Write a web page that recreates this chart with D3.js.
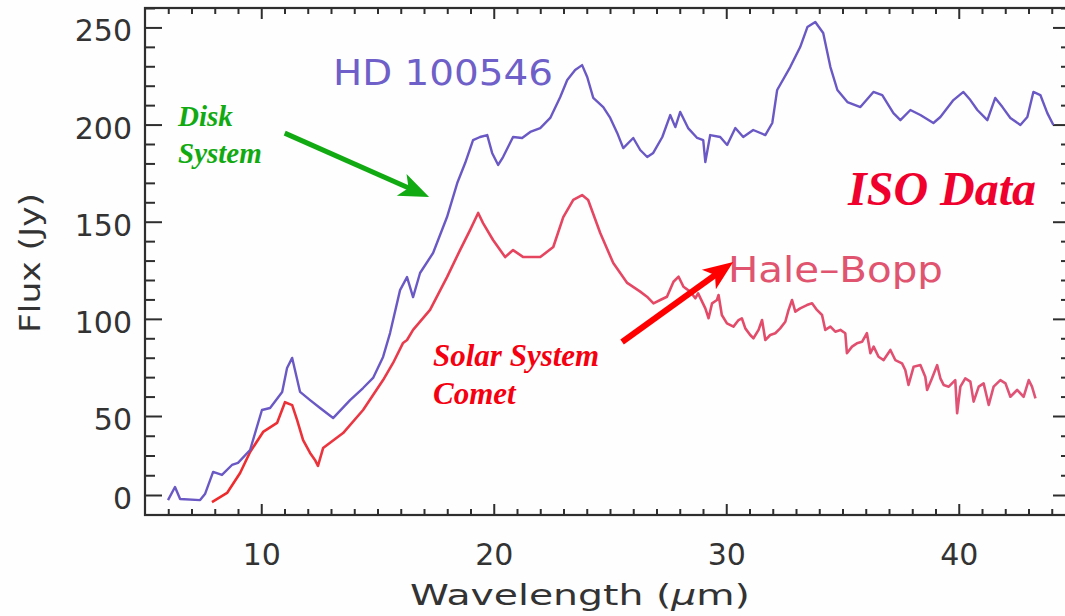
<!DOCTYPE html>
<html>
<head>
<meta charset="utf-8">
<script src="https://cdn.jsdelivr.net/npm/d3@7"></script>
<style>
  body { margin: 0; background: #fefefe; }
  svg { display: block; }
</style>
</head>
<body>
<script>
// HD 100546 (disk system), wavelength in um / flux in Jy
var hdWave = [5.99, 6.29, 6.51, 7.37, 7.58, 7.93, 8.31, 8.74, 9.00, 9.52, 10.03, 10.38, 10.90, 11.11, 11.33, 11.45, 11.67, 12.10, 12.53, 13.09,
  13.82, 14.38, 14.81, 15.24, 15.54, 15.97, 16.27, 16.53, 16.83, 17.39, 17.99, 18.43, 18.77, 19.11, 19.41, 19.72, 19.93, 20.19, 20.40, 20.83,
  21.22, 21.57, 22.00, 22.43, 22.86, 23.16, 23.50, 23.80, 24.02, 24.28, 24.71, 25.01, 25.31, 25.57, 26.00, 26.30, 26.60, 26.86, 27.25, 27.59,
  27.81, 28.02, 28.36, 28.75, 29.01, 29.10, 29.31, 29.74, 30.04, 30.39, 30.73, 31.16, 31.68, 31.98, 32.19, 32.75, 33.18, 33.49, 33.83, 34.17,
  34.48, 34.78, 35.21, 35.77, 36.33, 36.71, 37.19, 37.49, 37.92, 38.35, 38.91, 39.21, 39.77, 40.20, 40.50, 40.80, 41.23, 41.57, 41.88, 42.22,
  42.65, 42.95, 43.21, 43.51, 43.81, 44.07];
var hdFlux = [-3.2, 5.1, -2.5, -3.2, 0.6, 14.6, 12.7, 19.0, 20.3, 28.5, 53.1, 54.1, 62.4, 74.7, 79.9, 73.7, 62.4, 58.2, 54.1, 48.7,
  58.2, 64.4, 69.6, 80.4, 92.7, 114.8, 121.5, 111.2, 123.6, 133.9, 152.4, 169.9, 180.2, 192.0, 193.6, 194.6, 185.4, 179.2, 183.3, 193.6,
  193.1, 196.2, 198.2, 203.4, 214.2, 222.9, 228.1, 230.6, 224.5, 213.7, 209.0, 203.4, 195.7, 187.9, 193.1, 186.9, 183.3, 185.4, 193.6, 204.9,
  198.7, 206.5, 198.2, 193.1, 192.0, 180.7, 194.6, 193.6, 189.5, 198.2, 193.6, 197.2, 194.6, 200.8, 217.8, 229.6, 239.9, 250.2, 252.8, 247.1,
  229.6, 217.8, 211.6, 209.0, 216.8, 215.2, 205.9, 202.3, 207.5, 204.9, 200.8, 203.9, 212.6, 216.8, 212.6, 207.5, 202.3, 213.7, 209.0, 203.4,
  199.8, 203.9, 216.8, 215.2, 205.9, 199.8];

// Hale-Bopp (solar system comet)
var hbWave = [7.88, 8.53, 9.09, 9.52, 10.08, 10.68, 11.02, 11.33, 11.54, 11.80, 12.10, 12.31, 12.44, 12.66, 13.52, 14.38, 15.24, 15.67, 16.10, 16.27,
  16.53, 17.26, 17.99, 18.55, 18.98, 19.33, 19.54, 19.97, 20.49, 20.83, 21.27, 22.00, 22.56, 22.99, 23.42, 23.80, 24.06, 24.58, 25.14, 25.74,
  26.30, 26.59, 26.87, 27.16, 27.45, 27.73, 27.95, 28.16, 28.45, 28.67, 28.79, 29.10, 29.24, 29.39, 29.60, 29.67, 29.81, 30.03, 30.31, 30.53,
  30.67, 30.82, 31.03, 31.17, 31.39, 31.54, 31.68, 31.89, 32.11, 32.32, 32.54, 32.68, 32.83, 32.97, 33.18, 33.47, 33.69, 33.90, 34.12, 34.26,
  34.48, 34.69, 34.91, 35.12, 35.19, 35.41, 35.62, 35.84, 36.05, 36.20, 36.34, 36.55, 36.77, 37.06, 37.27, 37.56, 37.70, 37.84, 38.06, 38.35,
  38.56, 38.64, 38.85, 39.07, 39.21, 39.35, 39.57, 39.85, 39.93, 40.07, 40.28, 40.50, 40.64, 40.86, 41.07, 41.29, 41.50, 41.79, 42.01, 42.22,
  42.51, 42.79, 43.01, 43.15, 43.30];
var hbFlux = [-4.4, 1.3, 13.9, 27.2, 39.9, 45.6, 57.1, 55.6, 47.5, 34.8, 26.6, 22.2, 18.4, 29.7, 39.2, 53.1, 68.5, 77.3, 87.6, 89.1,
  94.3, 104.6, 121.5, 135.4, 145.7, 154.5, 149.3, 140.6, 131.8, 135.4, 131.8, 131.8, 137.0, 152.4, 161.2, 163.7, 161.2, 144.2, 128.7, 118.5,
  114.0, 111.4, 108.0, 109.7, 111.4, 119.1, 121.7, 116.5, 114.0, 110.6, 113.1, 105.4, 100.3, 108.0, 109.7, 112.3, 102.0, 97.7, 96.0, 99.4,
  100.3, 95.1, 91.7, 90.0, 94.3, 99.4, 89.1, 91.7, 92.6, 95.1, 98.5, 104.6, 109.7, 103.7, 105.4, 107.1, 108.0, 104.6, 102.0, 94.3,
  96.0, 93.4, 94.3, 92.6, 82.3, 85.7, 87.4, 88.2, 92.6, 82.3, 85.7, 80.5, 78.8, 84.0, 78.8, 77.1, 73.7, 66.0, 75.4, 76.2,
  70.2, 63.4, 69.4, 76.2, 69.4, 66.0, 65.1, 68.5, 51.4, 65.1, 69.4, 67.7, 57.4, 65.1, 66.8, 55.7, 65.1, 68.5, 66.8, 59.9,
  63.4, 59.9, 68.5, 65.1, 59.1];

var xMajor = [10, 20, 30, 40];
var xMinor = d3.range(6, 45).filter(function(v) { return v % 10 !== 0; });
var yMajor = [0, 50, 100, 150, 200, 250];
var yMinor = [12.5, 25, 37.5, 60, 70, 80, 90, 110, 120, 130, 140, 160, 170, 180, 190, 210, 220, 230, 240, 260];

var width = 1065, height = 616;
var plotLeft = 145, plotRight = 1075, plotTop = 8, plotBottom = 515;

var svg = d3.select("body").append("svg")
  .attr("width", width)
  .attr("height", height);

var x = d3.scaleLinear().domain([5, 45]).range([plotLeft, plotRight]);
// the picture squeezes 0..50 a bit, so the y scale is piecewise
var y = d3.scaleLinear().domain([-12.5, 0, 50, 260]).range([plotBottom, 495, 416, plotTop]);

var axisColor = "#2e2e2e";
var font = "DejaVu Sans, sans-serif";

function styleAxis(g) {
  g.select(".domain").remove();
  g.selectAll(".tick line").attr("stroke", axisColor).attr("stroke-width", 2);
  g.selectAll(".tick text").attr("fill", "#333").attr("font-family", font).attr("font-size", 30);
}

// bottom
svg.append("g").attr("transform", "translate(0," + plotBottom + ")")
  .call(d3.axisBottom(x).tickValues(xMinor).tickSize(-6).tickFormat(""))
  .call(styleAxis);
svg.append("g").attr("transform", "translate(0," + plotBottom + ")")
  .call(d3.axisBottom(x).tickValues(xMajor).tickSize(-11).tickPadding(29).tickFormat(d3.format("d")))
  .call(styleAxis);
// top
svg.append("g").attr("transform", "translate(0," + plotTop + ")")
  .call(d3.axisTop(x).tickValues(xMinor).tickSize(-6).tickFormat(""))
  .call(styleAxis);
svg.append("g").attr("transform", "translate(0," + plotTop + ")")
  .call(d3.axisTop(x).tickValues(xMajor).tickSize(-11).tickFormat(""))
  .call(styleAxis);
// left
svg.append("g").attr("transform", "translate(" + plotLeft + ",0)")
  .call(d3.axisLeft(y).tickValues(yMinor).tickSize(-10).tickFormat(""))
  .call(styleAxis);
svg.append("g").attr("transform", "translate(" + plotLeft + ",0)")
  .call(d3.axisLeft(y).tickValues(yMajor).tickSize(-17).tickPadding(13).tickFormat(d3.format("d")))
  .call(styleAxis)
  .selectAll(".tick text").attr("dy", "0.45em");
// right
svg.append("g").attr("transform", "translate(" + plotRight + ",0)")
  .call(d3.axisRight(y).tickValues(yMinor).tickSize(-14).tickFormat(""))
  .call(styleAxis);
svg.append("g").attr("transform", "translate(" + plotRight + ",0)")
  .call(d3.axisRight(y).tickValues(yMajor).tickSize(-22).tickFormat(""))
  .call(styleAxis);

// frame
svg.append("rect")
  .attr("x", plotLeft).attr("y", plotTop)
  .attr("width", plotRight - plotLeft).attr("height", plotBottom - plotTop)
  .attr("fill", "none").attr("stroke", axisColor).attr("stroke-width", 2.2);

// axis titles
svg.append("text")
  .attr("transform", "translate(40,263) rotate(-90)")
  .attr("text-anchor", "middle")
  .attr("font-family", font).attr("font-size", 29).attr("fill", "#333")
  .attr("textLength", 140).attr("lengthAdjust", "spacingAndGlyphs")
  .text("Flux (Jy)");

var xt = svg.append("text")
  .attr("x", 580).attr("y", 605)
  .attr("text-anchor", "middle")
  .attr("font-family", font).attr("font-size", 29).attr("fill", "#333")
  .attr("textLength", 340).attr("lengthAdjust", "spacingAndGlyphs");
xt.append("tspan").text("Wavelength (");
xt.append("tspan").attr("font-style", "italic").text("\u03bc");
xt.append("tspan").text("m)");

// curves
var defs = svg.append("defs");
var grad = defs.append("linearGradient")
  .attr("id", "hbGrad").attr("gradientUnits", "userSpaceOnUse")
  .attr("x1", x(8)).attr("x2", x(44)).attr("y1", 0).attr("y2", 0);
grad.append("stop").attr("offset", 0).attr("stop-color", "#ee2a2a");
grad.append("stop").attr("offset", 0.35).attr("stop-color", "#e6445e");
grad.append("stop").attr("offset", 1).attr("stop-color", "#df5478");

var line = d3.line()
  .x(function(d) { return x(d[0]); })
  .y(function(d) { return y(d[1]); });

svg.append("path")
  .datum(d3.zip(hbWave, hbFlux))
  .attr("d", line)
  .attr("fill", "none")
  .attr("stroke", "url(#hbGrad)")
  .attr("stroke-width", 2.6)
  .attr("stroke-linejoin", "round");

svg.append("path")
  .datum(d3.zip(hdWave, hdFlux))
  .attr("d", line)
  .attr("fill", "none")
  .attr("stroke", "#6a58c4")
  .attr("stroke-width", 2.4)
  .attr("stroke-linejoin", "round");

// curve labels
svg.append("text")
  .attr("x", 333).attr("y", 85)
  .attr("font-family", font).attr("font-size", 36).attr("fill", "#6f5fc8")
  .attr("textLength", 220).attr("lengthAdjust", "spacingAndGlyphs")
  .text("HD 100546");

svg.append("text")
  .attr("x", 728).attr("y", 282)
  .attr("font-family", font).attr("font-size", 36).attr("fill", "#e05470")
  .attr("textLength", 215).attr("lengthAdjust", "spacingAndGlyphs")
  .text("Hale\u2013Bopp");

// annotations
var serif = "Liberation Serif, Times New Roman, serif";
function note(lines, px, py, size, color, gap) {
  var t = svg.append("text")
    .attr("font-family", serif).attr("font-size", size)
    .attr("font-weight", "bold").attr("font-style", "italic")
    .attr("fill", color);
  lines.forEach(function(s, i) {
    t.append("tspan").attr("x", px).attr("y", py + i * gap).text(s);
  });
}
note(["Disk", "System"], 178, 126, 29, "#12aa12", 37);
note(["ISO Data"], 848, 205, 48, "#f0002c", 0);
note(["Solar System", "Comet"], 433, 366, 31, "#f50010", 38);

// arrows, ends given in data units
var arrows = [
  { from: [11.01, 195.6], to: [17.22, 162.7], color: "#12aa12", w: 5 },
  { from: [25.52, 88.1], to: [30.30, 129.3], color: "#ff0000", w: 6 }
];
arrows.forEach(function(a) {
  var x0 = x(a.from[0]), y0 = y(a.from[1]), x1 = x(a.to[0]), y1 = y(a.to[1]);
  var dx = x1 - x0, dy = y1 - y0, len = Math.sqrt(dx * dx + dy * dy);
  var ux = dx / len, uy = dy / len, nx = -uy, ny = ux;
  var L = 30, W = 12;
  svg.append("line")
    .attr("x1", x0).attr("y1", y0)
    .attr("x2", x1 - ux * L * 0.7).attr("y2", y1 - uy * L * 0.7)
    .attr("stroke", a.color).attr("stroke-width", a.w);
  svg.append("polygon")
    .attr("points", [
      [x1, y1],
      [x1 - ux * L + nx * W, y1 - uy * L + ny * W],
      [x1 - ux * L * 0.75, y1 - uy * L * 0.75],
      [x1 - ux * L - nx * W, y1 - uy * L - ny * W]
    ].map(function(p) { return p.join(","); }).join(" "))
    .attr("fill", a.color);
});
</script>
</body>
</html>
